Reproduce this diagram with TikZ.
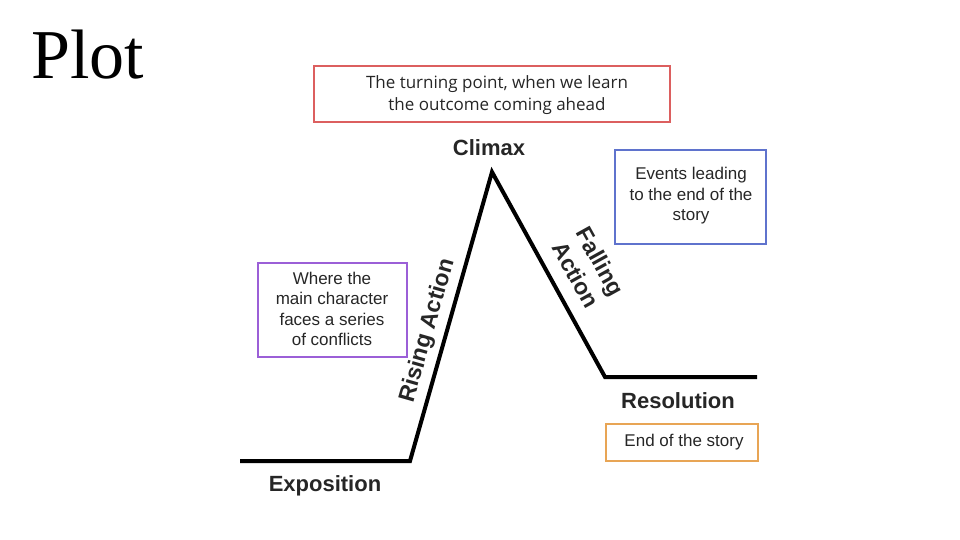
\documentclass[tikz,border=0pt]{standalone}
\usepackage{fontspec}
\setmainfont{Liberation Sans}
\newfontfamily\plotserif{Liberation Serif}
\newfontfamily\opensans{Open Sans}
\begin{document}
\begin{tikzpicture}[x=1pt,y=-1pt,
  box/.style={draw=#1,line width=2.5pt,inner sep=0pt},
  lbl/.style={font=\fontsize{17}{20.5}\selectfont,align=center,text=black!85},
  big/.style={font=\bfseries\fontsize{22}{26}\selectfont,text=black!85}]
\useasboundingbox (0,0) rectangle (960,540);
\definecolor{cred}{RGB}{220,95,95}
\definecolor{cblue}{RGB}{95,115,205}
\definecolor{cpurp}{RGB}{155,95,215}
\definecolor{corange}{RGB}{232,165,85}
\node[font=\plotserif\fontsize{70}{78}\selectfont] (plot) at (88,55) {Plot};
% plot line
\coordinate (a) at (240,461);
\coordinate (b) at (410,461);
\coordinate (c) at (492,172);
\coordinate (d) at (605,377);
\coordinate (e) at (757,377);
\draw[line width=4pt,line join=miter] (a) -- (b) -- (c) -- (d) -- (e);
% boxes
\draw[box=cred] (314,66) rectangle (670,122);
\node[lbl,font=\opensans\fontsize{17}{22}\selectfont] (t1) at (497,95) {The turning point, when we learn\\the outcome coming ahead};
\node[big] (climax) at (489,148) {Climax};
\draw[box=cblue] (615,150) rectangle (766,244);
\node[lbl] (t2) at (691,196) {Events leading\\to the end of the\\story};
\draw[box=cpurp] (258,263) rectangle (407,357);
\node[lbl] (t3) at (332,309) {Where the\\main character\\faces a series\\of conflicts};
\node[big,rotate=74,font=\bfseries\fontsize{23}{26}\selectfont] (rising) at (428,331) {Rising Action};
\node[big,rotate=-61,align=center,font=\bfseries\fontsize{23}{28}\selectfont] (falling) at (588,268) {Falling\\Action};
\node[big] (resol) at (678,401) {Resolution};
\draw[box=corange] (606,424) rectangle (758,461);
\node[lbl] (t4) at (684,442) {End of the story};
\node[big] (expo) at (325,486) {Exposition};
\end{tikzpicture}
\end{document}
